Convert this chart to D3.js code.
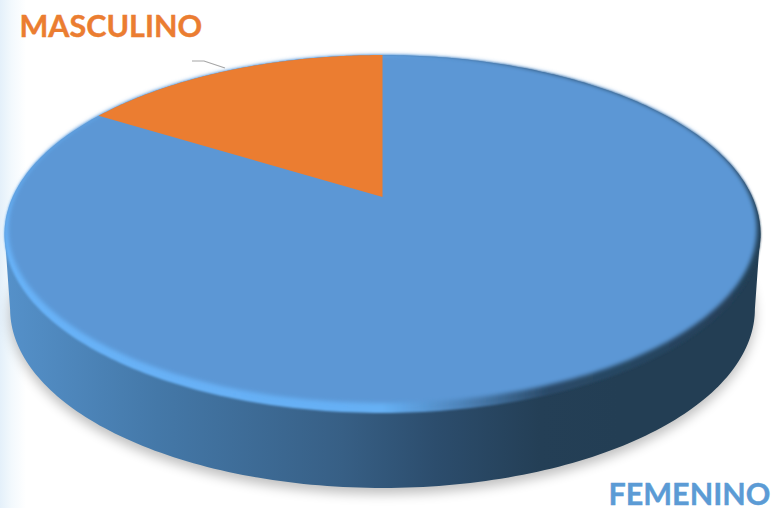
<!DOCTYPE html>
<html><head><meta charset="utf-8">
<script src="https://cdn.jsdelivr.net/npm/d3@7"></script>
<style>html,body{margin:0;padding:0;background:#fff;overflow:hidden}svg{display:block}</style>
</head><body><svg id="c" width="774" height="508"></svg>
<script>
const categories = ["FEMENINO", "MASCULINO"];
const values = [83.8, 16.2];
const colors = ["#5B97D5", "#EB7D31"];

const svg = d3.select("#c");
const defs = svg.append("defs");

function grad(id, stops, x1, x2) {
  const g = defs.append("linearGradient").attr("id", id).attr("gradientUnits", "userSpaceOnUse")
    .attr("x1", x1).attr("x2", x2).attr("y1", 0).attr("y2", 0);
  stops.forEach(s => g.append("stop").attr("offset", s[0]).attr("stop-color", s[1]));
}
function blur(id, sd) {
  defs.append("filter").attr("id", id).attr("x", "-10%").attr("y", "-10%").attr("width", "120%").attr("height", "120%")
    .append("feGaussianBlur").attr("stdDeviation", sd);
}
grad("bg", [[0, "#e4f0fa"], [0.45, "#f3f9fd"], [1, "#ffffff"]], 0, 26);
grad("side", [[0, "#5591ca"], [0.25, "#4478a8"], [0.55, "#375f85"], [0.7, "#2c4d6d"], [0.87, "#243f56"], [1, "#233e54"]], 4, 620);
grad("bevel", [[0, "#68b2f8"], [0.5, "#66b0f4"], [0.6, "#4f86bd"], [0.72, "#2a4a68"], [1, "#243f56"]], 4, 760);
blur("b2", 1.9);
blur("b1", 0.9);
blur("b6", 6);

// Perspective projection of the pie's disc onto the page
const cx = 382.5, apexY = 197, k = 0.2067, a = -130.6, R = 369.9, topY = 55;
const project = (theta, dy = 0, sx = 1, sy = 1) => {
  const u = Math.sin(theta), v = Math.cos(theta);
  const w = 1 + k * v;
  return [cx + sx * R * u / w, topY + sy * ((a * v + apexY) / w - topY) + dy];
};
const line = d3.line();
const turn = d3.scaleLinear().domain([0, 1]).range([0, 2 * Math.PI]);
const disc = (dy, sx, sy) => line(d3.range(0, 1.0001, 1 / 360).map(t => project(turn(t), dy, sx, sy))) + "Z";
const sector = d => line([[cx, apexY]].concat(
  d3.range(0, 1.0001, 1 / 120).map(t => project(d.startAngle + t * (d.endAngle - d.startAngle)))
)) + "Z";

svg.append("rect").attr("width", 26).attr("height", 508).attr("fill", "url(#bg)");

// drop shadow
svg.append("path").attr("d", disc(81, 0.985, 1)).attr("fill", "#000").attr("opacity", 0.25).attr("filter", "url(#b6)");

// solid base under the soft bevel edge, so no white shows through the blur
svg.append("path").attr("d", disc(0, 1, 1)).attr("fill", "url(#side)");

// side wall, from the disc's widest point round the front; its top edge overlaps the base
const wallDepth = 75, wallScale = 0.985, overlap = -4;
const t0 = Math.acos(-k) / (2 * Math.PI);
const front = d3.range(t0, 1 - t0 + 1e-6, 1 / 360);
const wall = front.map(t => project(turn(t), overlap))
  .concat(front.slice().reverse().map(t => project(turn(t), wallDepth, wallScale)));
svg.append("path").attr("d", line(wall) + "Z").attr("fill", "url(#side)");

// bevel ring and face
svg.append("path").attr("d", disc(0, 1, 1)).attr("fill", "url(#bevel)").attr("filter", "url(#b1)");
svg.append("path").attr("d", disc(0, 0.99, 0.972)).attr("fill", colors[0]).attr("filter", "url(#b2)");

// slices
const arcs = d3.pie().sort(null)(values);
svg.selectAll("path.slice").data(arcs.slice(1)).join("path").attr("class", "slice")
  .attr("d", sector).attr("fill", (d, i) => colors[i + 1]);

// leader line
svg.append("polyline").attr("points", "192,61 204,61 225,68").attr("fill", "none").attr("stroke", "#a6a6a6").attr("stroke-width", 1.2);

// labels
const font = "Lato, Carlito, sans-serif";
svg.append("text").text(categories[1]).attr("x", 19.5).attr("y", 37).attr("font-family", font)
  .attr("font-weight", 700).attr("font-size", 30.5).attr("fill", colors[1]).attr("stroke", colors[1]).attr("stroke-width", 0.4);
svg.append("text").text(categories[0]).attr("x", 608.5).attr("y", 505).attr("font-family", font)
  .attr("font-weight", 700).attr("font-size", 30.5).attr("fill", "#5B9BD5").attr("stroke", "#5B9BD5").attr("stroke-width", 0.4);
</script></body></html>
